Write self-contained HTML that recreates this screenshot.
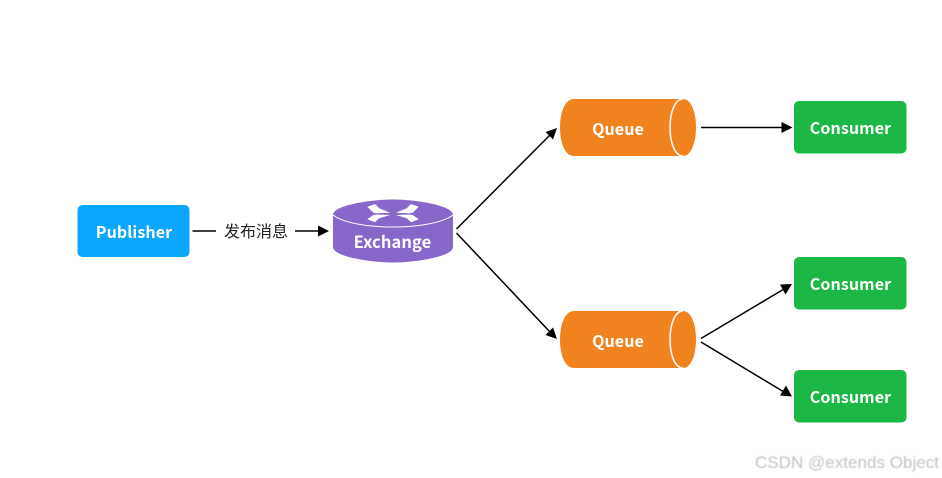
<!DOCTYPE html>
<html>
<head>
<meta charset="utf-8">
<style>
html,body{margin:0;padding:0;background:#fff;width:942px;height:478px;overflow:hidden}
svg{display:block}
.b{font-family:"Noto Sans CJK SC","Liberation Sans",sans-serif;font-weight:700;font-size:16px;letter-spacing:.1px;fill:#fff;text-anchor:middle}
</style>
</head>
<body>
<svg width="942" height="478" viewBox="0 0 942 478" xmlns="http://www.w3.org/2000/svg">
<defs><filter id="s" x="-5%" y="-20%" width="110%" height="140%"><feGaussianBlur stdDeviation="0.45"/></filter></defs>
<rect width="942" height="478" fill="#fff"/>

<!-- Publisher -->
<rect x="77.500" y="205" width="112" height="52" rx="5" fill="#0ca6ff"/>
<text class="b" x="134" y="238">Publisher</text>

<!-- Publisher to Exchange -->
<line x1="192.500" y1="231" x2="216" y2="231" stroke="#000" stroke-width="1.500"/>
<text x="256" y="237" font-family="'Noto Sans CJK SC',sans-serif" font-size="16" fill="#222" text-anchor="middle">发布消息</text>
<line x1="295" y1="231" x2="320" y2="231" stroke="#000" stroke-width="1.500"/>
<polygon points="329,231 318,225.500 318,236.500" fill="#000"/>

<!-- Exchange -->
<path d="M333 215C333 205 372 199.500 393 199.500C414 199.500 453 205 453 215V247C453 257 414 262.500 393 262.500C372 262.500 333 257 333 247Z" fill="#8767c9"/>
<path d="M333 215C345 224 372 227 393 227C414 227 441 224 453 215" fill="none" stroke="#fff" stroke-width="1"/>
<g fill="#fff">
<polygon points="367.300,206.700 375,204 379.300,208.300 390,212.700 376.700,213.300 373.300,212.700"/>
<polygon points="367.300,219.300 375,222.300 379.300,218.300 390,215 376.700,214.500 373.300,215"/>
<polygon points="418.700,206.700 411,204 406.700,208.300 396,212.700 409.300,213.300 412.700,212.700"/>
<polygon points="418.700,219.300 411,222.300 406.700,218.300 396,215 409.300,214.500 412.700,215"/>
</g>
<text class="b" x="392.500" y="248" style="font-size:16.500px">Exchange</text>

<!-- Exchange arrows -->
<line x1="456.500" y1="229" x2="550" y2="135" stroke="#000" stroke-width="1.500"/>
<polygon points="557,128 545.500,132 553,139.500" fill="#000"/>
<line x1="456.500" y1="233" x2="550" y2="332" stroke="#000" stroke-width="1.500"/>
<polygon points="557,339 553,327.500 545.500,335" fill="#000"/>

<!-- Queue top -->
<path d="M574 99H683C691 99 696 112 696 127.500C696 143 691 156 683 156H574C565 156 560 143 560 127.500C560 112 565 99 574 99Z" fill="#f1831f"/>
<path d="M683 99C675 99 670 112 670 127.500C670 143 675 156 683 156" fill="none" stroke="#fff" stroke-width="1.500"/>
<text class="b" x="618" y="135">Queue</text>

<!-- Queue bottom -->
<path d="M574 311H683C691 311 696 324 696 339.500C696 355 691 368 683 368H574C565 368 560 355 560 339.500C560 324 565 311 574 311Z" fill="#f1831f"/>
<path d="M683 311C675 311 670 324 670 339.500C670 355 675 368 683 368" fill="none" stroke="#fff" stroke-width="1.500"/>
<text class="b" x="618" y="347">Queue</text>

<!-- Queue to consumer arrows -->
<line x1="701" y1="127.500" x2="783" y2="127.500" stroke="#000" stroke-width="1.500"/>
<polygon points="792.500,127.500 781.500,122 781.500,133" fill="#000"/>
<line x1="701" y1="338.500" x2="784" y2="289" stroke="#000" stroke-width="1.500"/>
<polygon points="792,284 780,284.500 785.500,294.500" fill="#000"/>
<line x1="701" y1="342" x2="784" y2="392" stroke="#000" stroke-width="1.500"/>
<polygon points="792,396.500 786,385.500 780,395.500" fill="#000"/>

<!-- Consumers -->
<rect x="794" y="101" width="112.500" height="52.500" rx="5" fill="#1bb845"/>
<text class="b" x="850.500" y="134">Consumer</text>
<rect x="794" y="257" width="112.500" height="52.500" rx="5" fill="#1bb845"/>
<text class="b" x="850.500" y="290">Consumer</text>
<rect x="794" y="370" width="112.500" height="52.500" rx="5" fill="#1bb845"/>
<text class="b" x="850.500" y="403">Consumer</text>

<!-- Watermark -->
<text x="755" y="468" font-family="'Liberation Sans',sans-serif" font-size="17" fill="#c4c4c4" textLength="184" filter="url(#s)">CSDN @extends Object</text>
</svg>
</body>
</html>
